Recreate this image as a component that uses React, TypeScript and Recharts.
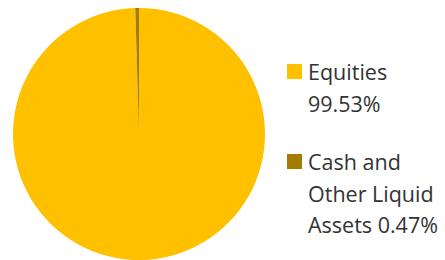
import { PieChart, Pie, Cell, Legend } from "recharts";

document.body.style.margin = "0";

const names = ["Equities", "Cash and Other Liquid Assets"];
const shares = [99.53, 0.47];
const colors = ["#FFC000", "#A37C00"];

const data = names.map((name, i) => ({ name, value: shares[i] }));

function AllocationLegend() {
  return (
    <div style={{ width: 158 }}>
      {data.map((d, i) => (
        <div
          key={d.name}
          style={{ display: "flex", alignItems: "flex-start", marginBottom: i === 0 ? 27 : 0 }}
        >
          <div
            style={{
              width: 15,
              height: 15,
              background: colors[i],
              marginTop: 8,
              marginRight: 6,
              flexShrink: 0,
            }}
          />
          <div style={{ fontSize: 21.5, lineHeight: "31.5px", color: "#333" }}>
            {d.name} {d.value.toFixed(2)}%
          </div>
        </div>
      ))}
    </div>
  );
}

export default function App() {
  return (
    <div style={{ fontFamily: "'Open Sans', sans-serif" }}>
      <PieChart width={445} height={260} margin={{ top: 0, right: 0, bottom: 0, left: 0 }}>
        <Pie
          data={data}
          dataKey="value"
          nameKey="name"
          cx={139}
          cy={134}
          outerRadius={126}
          startAngle={90}
          endAngle={-270}
          stroke="none"
          isAnimationActive={false}
        >
          {data.map((d, i) => (
            <Cell key={d.name} fill={colors[i]} />
          ))}
        </Pie>
        <Legend
          content={<AllocationLegend />}
          wrapperStyle={{ position: "absolute", left: 287, top: 56, width: 158 }}
        />
      </PieChart>
    </div>
  );
}
